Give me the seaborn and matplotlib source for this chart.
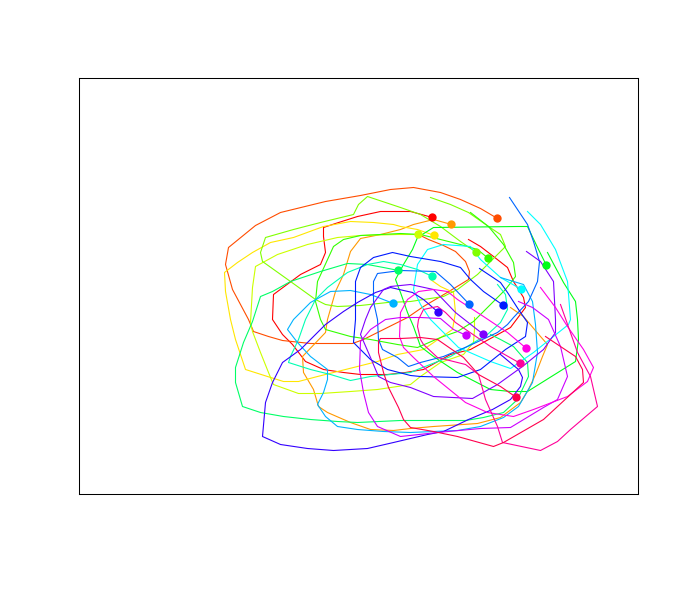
import matplotlib

matplotlib.use("Agg")
import matplotlib.pyplot as plt
import pandas as pd
import seaborn as sns

colors = ["#FF0000", "#FF4D00", "#FF9900", "#FFE600", "#CCFF00", "#80FF00", "#33FF00", "#00FF19", "#00FF66", "#00FFB3",
          "#00FFFF", "#00B3FF", "#0066FF", "#001AFF", "#3300FF", "#8000FF", "#CC00FF", "#FF00E6", "#FF0099", "#FF004D"]

# values, first point of each path is the dot
x0 = [432, 410, 380, 357, 335, 323, 323, 325, 320, 300, 273, 272, 282, 292, 305, 323, 343, 360, 387, 405, 423, 450, 470, 510, 525, 523, 513, 507, 493, 480, 468]
y0 = [218, 212, 212, 217, 224, 228, 237, 253, 265, 275, 295, 320, 335, 345, 362, 370, 373, 375, 375, 373, 370, 355, 350, 328, 308, 298, 282, 268, 257, 247, 240]
x1 = [497, 480, 460, 440, 413, 390, 360, 325, 280, 255, 228, 225, 232, 248, 253, 268, 282, 310, 332, 352, 363, 383, 407, 423, 440, 455, 468, 469, 465, 455, 443, 428, 420]
y1 = [219, 209, 200, 193, 188, 190, 196, 202, 213, 226, 248, 265, 290, 320, 332, 337, 341, 344, 344, 344, 340, 330, 318, 307, 297, 288, 280, 272, 262, 252, 246, 240, 236]
x2 = [451, 433, 413, 400, 380, 360, 350, 343, 335, 327, 325, 302, 303, 313, 318, 327, 350, 370, 393, 410, 433, 477, 500, 520, 528, 535, 542, 547, 540, 523, 510]
y2 = [225, 220, 225, 230, 235, 239, 252, 275, 292, 320, 333, 357, 373, 390, 407, 413, 423, 430, 431, 429, 427, 424, 418, 403, 390, 375, 357, 345, 337, 317, 308]
x3 = [434, 417, 400, 393, 373, 350, 323, 293, 270, 252, 237, 224, 225, 230, 235, 245, 267, 283, 298, 317, 337, 357, 377, 397, 423, 452, 455, 453, 440, 430]
y3 = [236, 230, 227, 225, 223, 222, 227, 238, 243, 253, 263, 273, 292, 320, 340, 370, 377, 382, 382, 377, 372, 367, 362, 355, 350, 330, 313, 293, 287, 280]
x4 = [418, 397, 360, 337, 307, 277, 255, 252, 250, 252, 260, 270, 273, 298, 320, 350, 377, 410, 420, 440, 463, 473, 474, 474]
y4 = [235, 235, 236, 238, 245, 255, 267, 288, 323, 332, 353, 378, 385, 394, 394, 392, 390, 385, 377, 363, 355, 343, 330, 318]
x5 = [476, 460, 440, 420, 400, 367, 358, 353, 320, 293, 265, 260, 262, 290, 315, 325, 337, 360, 387, 410, 423, 443, 457, 477, 497, 505, 500, 488, 468, 450, 430]
y5 = [253, 242, 227, 215, 208, 197, 205, 215, 223, 230, 238, 253, 262, 282, 300, 305, 307, 306, 303, 302, 300, 297, 290, 275, 255, 247, 235, 227, 213, 205, 198]
x6 = [488, 477, 460, 440, 420, 400, 360, 343, 333, 317, 315, 320, 325, 350, 370, 397, 417, 440, 457, 473, 505, 515, 513, 503, 488, 470]
y6 = [259, 250, 245, 240, 235, 234, 236, 240, 247, 282, 302, 320, 330, 337, 340, 345, 348, 338, 332, 322, 290, 277, 263, 245, 227, 213]
x7 = [546, 538, 527, 517, 433, 417, 412, 403, 395, 398, 400, 407, 413, 420, 433, 457, 490, 510, 527, 543, 575, 578, 577, 575, 563, 547]
y7 = [266, 250, 227, 227, 228, 238, 250, 265, 280, 288, 293, 313, 327, 347, 357, 373, 390, 392, 392, 382, 362, 340, 320, 302, 283, 253]
x8 = [398, 383, 367, 347, 320, 290, 272, 260, 252, 243, 235, 235, 242, 260, 283, 310, 337, 357, 400, 433, 465, 483, 503, 517, 528, 527, 513, 500, 490]
y8 = [271, 268, 265, 264, 272, 282, 292, 297, 322, 343, 368, 383, 407, 413, 417, 420, 422, 423, 421, 421, 421, 418, 413, 400, 377, 363, 347, 340, 335]
x9 = [432, 417, 400, 383, 367, 347, 327, 315, 305, 298, 290, 288, 310, 330, 350, 370, 390, 410, 417, 450, 470, 487, 500, 507, 505, 497]
y9 = [277, 270, 265, 262, 265, 273, 288, 300, 320, 340, 357, 363, 370, 375, 381, 377, 375, 373, 370, 357, 345, 335, 323, 310, 295, 285]
x10 = [521, 500, 480, 470, 443, 427, 417, 413, 420, 430, 447, 458, 490, 510, 533, 568, 570, 567, 555, 540, 527]
y10 = [290, 278, 260, 247, 245, 250, 265, 290, 305, 320, 337, 348, 362, 369, 353, 325, 320, 282, 250, 225, 212]
x11 = [393, 370, 350, 330, 310, 293, 287, 297, 310, 327, 327, 323, 317, 325, 337, 357, 383, 410, 433, 457, 480, 503, 518, 532, 537, 535, 532, 523, 500]
y11 = [304, 295, 291, 292, 303, 320, 330, 343, 357, 370, 380, 393, 405, 417, 427, 430, 432, 433, 432, 431, 427, 418, 407, 383, 353, 325, 302, 285, 278]
x12 = [469, 450, 435, 400, 377, 373, 373, 377, 378, 382, 397, 408, 420, 443, 467, 497, 507, 513, 528, 537, 539, 533, 527, 515, 509]
y12 = [305, 285, 272, 271, 274, 282, 302, 320, 340, 350, 358, 367, 363, 357, 347, 333, 325, 318, 302, 282, 262, 242, 225, 207, 198]
x13 = [503, 483, 470, 460, 440, 410, 392, 373, 360, 355, 355, 353, 370, 387, 410, 420, 457, 480, 505, 525, 527, 518, 507, 500, 479]
y13 = [306, 292, 280, 268, 262, 257, 253, 258, 268, 282, 320, 343, 360, 370, 376, 377, 378, 370, 350, 337, 323, 310, 293, 283, 269]
x14 = [438, 423, 412, 390, 375, 357, 343, 325, 317, 300, 282, 272, 265, 262, 280, 307, 333, 367, 393, 427, 443, 468, 492, 510, 520, 522, 518, 500]
y14 = [313, 300, 293, 288, 293, 303, 312, 325, 333, 350, 363, 383, 403, 437, 445, 449, 451, 449, 443, 435, 432, 420, 410, 400, 387, 378, 370, 355]
x15 = [483, 455, 433, 410, 390, 383, 370, 365, 360, 370, 378, 390, 410, 433, 472, 497, 522, 543, 555, 555, 553, 540, 526]
y15 = [335, 313, 290, 285, 287, 290, 308, 320, 335, 358, 377, 383, 388, 397, 399, 385, 367, 350, 333, 320, 282, 262, 252]
x16 = [466, 453, 440, 420, 400, 385, 370, 360, 359, 363, 368, 377, 400, 437, 480, 510, 543, 557, 567, 560, 548, 532, 518]
y16 = [336, 330, 319, 318, 318, 320, 330, 342, 370, 393, 413, 427, 437, 433, 429, 428, 408, 400, 377, 347, 320, 308, 302]
x17 = [526, 507, 483, 457, 447, 433, 418, 407, 400, 399, 403, 413, 433, 465, 487, 513, 533, 567, 587, 593, 583, 567, 555, 540]
y17 = [349, 333, 317, 300, 292, 290, 292, 300, 313, 337, 348, 358, 377, 403, 413, 417, 410, 397, 382, 368, 350, 327, 308, 288]
x18 = [520, 490, 455, 445, 437, 423, 418, 417, 420, 423, 437, 465, 478, 485, 497, 502, 540, 557, 570, 597, 590, 577, 560]
y18 = [364, 347, 323, 313, 307, 310, 320, 327, 340, 345, 358, 365, 375, 400, 427, 443, 451, 442, 430, 407, 377, 353, 305]
x19 = [516, 500, 478, 463, 437, 420, 400, 380, 378, 378, 383, 388, 398, 403, 410, 433, 457, 493, 503, 543, 583, 582, 575, 545]
y19 = [398, 387, 375, 358, 340, 338, 339, 339, 342, 353, 373, 388, 408, 420, 428, 432, 437, 447, 443, 420, 383, 370, 357, 337]

xs = [x0, x1, x2, x3, x4, x5, x6, x7, x8, x9, x10, x11, x12, x13, x14, x15, x16, x17, x18, x19]
ys = [y0, y1, y2, y3, y4, y5, y6, y7, y8, y9, y10, y11, y12, y13, y14, y15, y16, y17, y18, y19]

rows = []
for i in range(len(xs)):
    for a, b in zip(xs[i], ys[i]):
        rows.append((i, a, b))
df = pd.DataFrame(rows, columns=["path", "x", "y"])
starts = df.groupby("path").head(1)

fig = plt.figure(figsize=(6.79, 5.92), dpi=100)
ax = fig.add_axes([79 / 679, 98 / 592, 559 / 679, 416 / 592])
sns.lineplot(data=df, x="x", y="y", hue="path", palette=colors, estimator=None, sort=False,
             legend=False, linewidth=0.8, ax=ax)
sns.scatterplot(data=starts, x="x", y="y", hue="path", palette=colors, s=36, linewidth=0, legend=False, zorder=3, ax=ax)

ax.set_xlim(78.5, 637.5)
ax.set_ylim(494.5, 78.5)
ax.set_xticks([])
ax.set_yticks([])
ax.set_xlabel("")
ax.set_ylabel("")
for s in ax.spines.values():
    s.set_linewidth(0.75)

fig.savefig("out.png", dpi=100)
plt.close(fig)
